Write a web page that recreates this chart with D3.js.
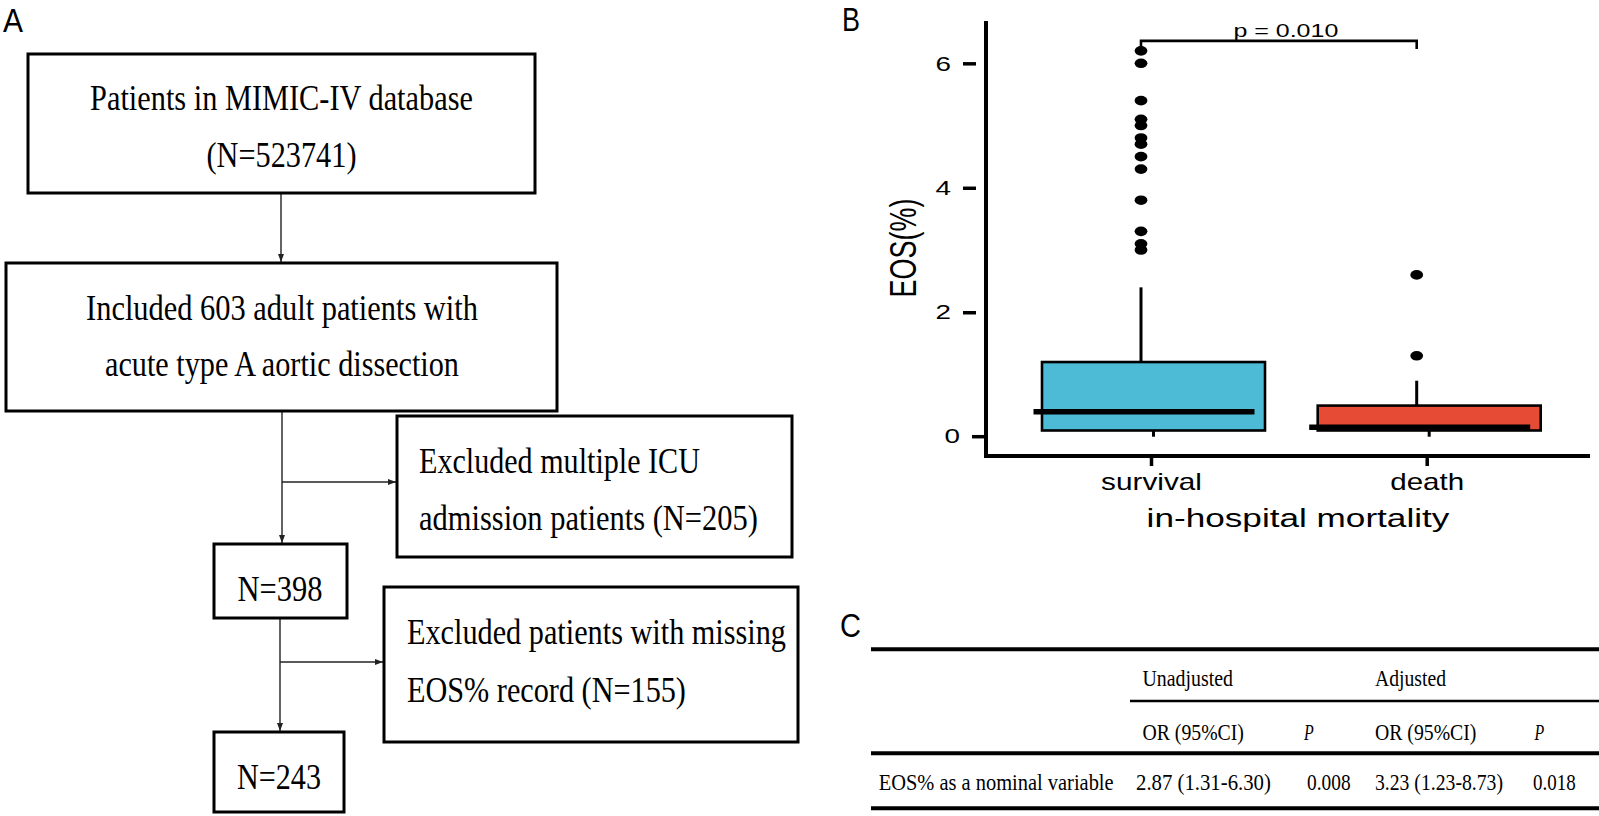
<!DOCTYPE html>
<html><head><meta charset="utf-8">
<script src="https://cdn.jsdelivr.net/npm/d3@7"></script>
<style>body{margin:0;background:#fff}svg{display:block;background:#fff}</style>
</head><body>
<svg id="fig" width="1599" height="816"></svg>
<script>
// ---------------- DATA ----------------
// Panel A – flowchart texts
const mainBoxLines = [
  ["Patients in MIMIC-IV database", "(N=523741)"],
  ["Included 603 adult patients with", "acute type A aortic dissection"],
  ["N=398"],
  ["N=243"]
];
const exclusionLines = [
  ["Excluded multiple ICU", "admission patients (N=205)"],
  ["Excluded patients with missing", "EOS% record (N=155)"]
];
// Panel B – boxplot statistics
const groups = ["survival", "death"];
const q1Values = [0.1, 0.1];
const medianValues = [0.4, 0.15];
const q3Values = [1.2, 0.5];
const whiskerLowValues = [0, 0];
const whiskerHighValues = [2.4, 0.9];
const outliersSurvival = [3.0, 3.1, 3.3, 3.8, 4.3, 4.5, 4.7, 4.8, 5.0, 5.1, 5.4, 6.0, 6.2];
const outliersDeath = [1.3, 2.6];
const yTicks = [0, 2, 4, 6];
const pValueLabel = "p = 0.010";
const yTitle = "EOS(%)";
const xTitle = "in-hospital mortality";
// Panel C – table
const tableHeader1 = ["Unadjusted", "Adjusted"];
const tableHeader2 = ["OR (95%CI)", "P", "OR (95%CI)", "P"];
const tableRowLabels = ["EOS% as a nominal variable"];
const tableRowValues = [["2.87 (1.31-6.30)", "0.008", "3.23 (1.23-8.73)", "0.018"]];

// ---------------- LAYOUT ----------------
const svg = d3.select("#fig");
const SERIF = "'Liberation Serif','Times New Roman',serif";
const SANS = "'Liberation Sans',Arial,sans-serif";

// text whose natural width is scaled horizontally to a measured length
function txt(g, s, x, y, o) {
  const t = g.append("text").text(s)
    .attr("font-family", o.family || SANS).attr("font-size", o.size).attr("fill", "#000")
    .attr("text-anchor", o.anchor || "start");
  if (o.italic) t.attr("font-style", "italic");
  if (o.transform) { t.attr("transform", o.transform); return t; }
  if (o.len) {
    const w = t.node().getComputedTextLength();
    t.attr("transform", `translate(${x},${y}) scale(${o.len / w},1)`);
  } else t.attr("x", x).attr("y", y);
  return t;
}
function squeeze(sel, lenFn) {
  sel.each(function (d) {
    const w = this.getComputedTextLength();
    const k = lenFn(d) / w;
    const x0 = +(this.getAttribute("x") || 0);
    d3.select(this).attr("transform", `scale(${k},1)`).attr("x", x0 / k);
  });
}

// panel letters
txt(svg, "A", 3, 32, {size: 34, len: 20});
txt(svg, "B", 842, 31, {size: 34, len: 18});
txt(svg, "C", 840, 637, {size: 34, len: 21});

// ---------------- PANEL A ----------------
const gA = svg.append("g");
svg.append("defs").append("marker").attr("id", "arr")
  .attr("markerUnits", "userSpaceOnUse").attr("markerWidth", 10).attr("markerHeight", 8)
  .attr("refX", 8).attr("refY", 3.5).attr("orient", "auto")
  .append("path").attr("d", "M0,0.5 L8,3.5 L0,6.5 Z").attr("fill", "#222");

const mainBoxLayout = [
  {x: 28, y: 54, w: 507, h: 139, cx: 281.5, base: [110, 167], widths: [383, 150]},
  {x: 6, y: 263, w: 551, h: 148, cx: 282, base: [320, 376], widths: [392, 354]},
  {x: 214, y: 544, w: 133, h: 74, cx: 280, base: [601], widths: [85]},
  {x: 214, y: 732, w: 130, h: 80, cx: 279, base: [789], widths: [84]}
];
const exclLayout = [
  {x: 397, y: 416, w: 395, h: 141, tx: 419, base: [473, 530], widths: [281, 339]},
  {x: 384, y: 587, w: 414, h: 155, tx: 407, base: [644, 702], widths: [379, 279]}
];
const arrowLines = [
  [281, 193, 281, 262], [282, 411, 282, 543], [282, 482, 396, 482],
  [280, 618, 280, 731], [280, 662, 383, 662]
];
arrowLines.forEach(a => gA.append("line").attr("x1", a[0]).attr("y1", a[1]).attr("x2", a[2]).attr("y2", a[3])
  .attr("stroke", "#222").attr("stroke-width", 1.4).attr("marker-end", "url(#arr)"));

mainBoxLines.forEach((lines, i) => {
  const L = mainBoxLayout[i];
  gA.append("rect").attr("x", L.x).attr("y", L.y).attr("width", L.w).attr("height", L.h)
    .attr("fill", "#fff").attr("stroke", "#000").attr("stroke-width", 3);
  lines.forEach((s, j) => txt(gA, s, L.cx, L.base[j], {family: SERIF, size: 36, anchor: "middle", len: L.widths[j]}));
});
exclusionLines.forEach((lines, i) => {
  const L = exclLayout[i];
  gA.append("rect").attr("x", L.x).attr("y", L.y).attr("width", L.w).attr("height", L.h)
    .attr("fill", "#fff").attr("stroke", "#000").attr("stroke-width", 3);
  lines.forEach((s, j) => txt(gA, s, L.tx, L.base[j], {family: SERIF, size: 36, len: L.widths[j]}));
});

// ---------------- PANEL B ----------------
const gB = svg.append("g");
const y = d3.scaleLinear().domain([-0.31, 6.68]).range([456, 21]);
const x = d3.scalePoint().domain(groups).range([1151, 1426.7]);
const boxShift = 2.5, whiskShift = -10, boxW = 223, medW = 221;
const fills = ["#4DBBD5", "#E64B35"];
const stats = groups.map((g, i) => ({
  g, i, q1: q1Values[i], med: medianValues[i], q3: q3Values[i],
  lo: whiskerLowValues[i], hi: whiskerHighValues[i],
  out: i === 0 ? outliersSurvival : outliersDeath
}));

// y axis
const yAxis = d3.axisLeft(y).tickValues(yTicks).tickSize(13).tickPadding(12).tickFormat(d3.format("d"));
gB.append("g").attr("transform", "translate(976,0)").call(yAxis)
  .call(g => g.select(".domain").remove())
  .call(g => g.selectAll(".tick line").attr("stroke", "#000").attr("stroke-width", 3.5))
  .call(g => g.selectAll(".tick text").attr("font-size", 21).attr("font-family", SANS).attr("fill", "#000"))
  .call(g => squeeze(g.selectAll(".tick text"), () => 15.5))
  .call(g => g.selectAll(".tick").filter(d => d === 0).attr("transform", d => `translate(9,${y(d)})`));

// x axis
const xLabelW = {survival: 101, death: 74};
const xAxis = d3.axisBottom(x).tickSize(10).tickPadding(8);
gB.append("g").attr("transform", "translate(0,456)").call(xAxis)
  .call(g => g.select(".domain").remove())
  .call(g => g.selectAll(".tick line").attr("stroke", "#000").attr("stroke-width", 3.5))
  .call(g => g.selectAll(".tick text").attr("font-size", 23).attr("font-family", SANS).attr("fill", "#000"))
  .call(g => squeeze(g.selectAll(".tick text"), d => xLabelW[d]));

// axis lines
gB.append("path").attr("d", `M986,${y(6.68)} V${y(-0.31)} H1590`)
  .attr("fill", "none").attr("stroke", "#000").attr("stroke-width", 4);

// titles
txt(gB, yTitle, 0, 0, {size: 27, anchor: "middle", transform: "translate(916,248) scale(1.38,1) rotate(-90)"});
txt(gB, xTitle, 1298, 527, {size: 26, anchor: "middle", len: 303});

// boxes
const bx = gB.selectAll("g.box").data(stats).join("g").attr("class", "box");
bx.append("line").attr("x1", d => x(d.g) + boxShift).attr("x2", d => x(d.g) + boxShift)
  .attr("y1", d => y(d.lo)).attr("y2", d => y(d.q1)).attr("stroke", "#000").attr("stroke-width", 3);
bx.append("line").attr("x1", d => x(d.g) + whiskShift).attr("x2", d => x(d.g) + whiskShift)
  .attr("y1", d => y(d.q3)).attr("y2", d => y(d.hi)).attr("stroke", "#000").attr("stroke-width", 3);
bx.append("rect").attr("x", d => x(d.g) + boxShift - boxW / 2).attr("width", boxW)
  .attr("y", d => y(d.q3)).attr("height", d => y(d.q1) - y(d.q3))
  .attr("fill", d => fills[d.i]).attr("stroke", "#000").attr("stroke-width", 2.6);
bx.append("line").attr("x1", d => x(d.g) + whiskShift + 3 - medW / 2).attr("x2", d => x(d.g) + whiskShift + 3 + medW / 2)
  .attr("y1", d => y(d.med)).attr("y2", d => y(d.med)).attr("stroke", "#000").attr("stroke-width", 5.5);
bx.selectAll("ellipse").data(d => d.out.map(v => ({g: d.g, v}))).join("ellipse")
  .attr("cx", d => x(d.g) + whiskShift).attr("cy", d => y(d.v)).attr("rx", 6.4).attr("ry", 4.8).attr("fill", "#000");

// significance bracket
const xa = x(groups[0]) + whiskShift, xb = x(groups[1]) + whiskShift;
gB.append("path").attr("d", `M${xa},${y(6.26)} V${y(6.36)} H${xb} V${y(6.23)}`)
  .attr("fill", "none").attr("stroke", "#000").attr("stroke-width", 2.6);
txt(gB, pValueLabel, (xa + xb) / 2 + 7, y(6.43), {size: 19, anchor: "middle", len: 105});

// ---------------- PANEL C ----------------
const gC = svg.append("g");
const hLines = [[871, 1599, 649.3, 4], [1130, 1599, 701, 2.5], [871, 1599, 753.3, 4], [871, 1599, 808.3, 4]];
hLines.forEach(l => gC.append("line").attr("x1", l[0]).attr("x2", l[1]).attr("y1", l[2]).attr("y2", l[2])
  .attr("stroke", "#000").attr("stroke-width", l[3]));
const h1X = [1142.5, 1375], h1W = [90.5, 71];
tableHeader1.forEach((s, i) => txt(gC, s, h1X[i], 686, {family: SERIF, size: 23.5, len: h1W[i]}));
const h2X = [1142.5, 1304, 1375, 1534.6], h2W = [101.5, 9.7, 101.5, 9.7];
tableHeader2.forEach((s, i) => txt(gC, s, h2X[i], 740, {family: SERIF, size: 23.5, len: h2W[i], italic: s === "P"}));
const rX = [1136, 1307, 1375, 1533], rW = [135, 43.6, 128, 42.7];
tableRowLabels.forEach((lab, r) => {
  txt(gC, lab, 878.7, 790, {family: SERIF, size: 23.5, len: 235});
  tableRowValues[r].forEach((s, i) => txt(gC, s, rX[i], 790, {family: SERIF, size: 23.5, len: rW[i]}));
});
</script>
</body></html>
